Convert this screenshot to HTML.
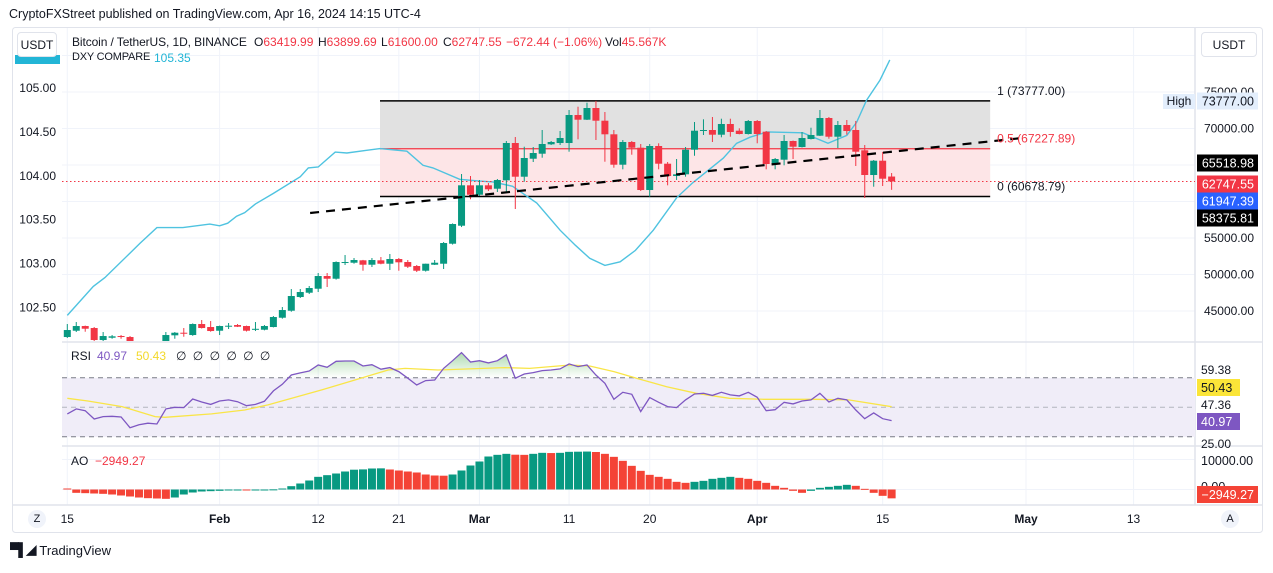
<!DOCTYPE html>
<html><head><meta charset="utf-8">
<style>
html,body{margin:0;padding:0;background:#fff;}
body{width:1273px;height:568px;overflow:hidden;font-family:"Liberation Sans",sans-serif;}
svg text{font-family:"Liberation Sans",sans-serif;}
.lg{position:absolute;font-size:12px;color:#131722;white-space:nowrap;}
.r{color:#f23645;}
</style></head>
<body>
<svg id="chart" width="1273" height="568" viewBox="0 0 1273 568" xmlns="http://www.w3.org/2000/svg">
<defs>
<clipPath id="mainClip"><rect x="62" y="28" width="1133" height="313"/></clipPath>
<clipPath id="rsiClip"><rect x="62" y="343" width="1133" height="102"/></clipPath>
<clipPath id="aoClip"><rect x="62" y="447" width="1133" height="58"/></clipPath>
<clipPath id="axisClip"><rect x="1196" y="60" width="66" height="445"/></clipPath>
<linearGradient id="rsiGreen" x1="0" y1="0" x2="0" y2="1"><stop offset="0" stop-color="#4caf50" stop-opacity="0.45"/><stop offset="1" stop-color="#4caf50" stop-opacity="0"/></linearGradient>
</defs>
<text x="9" y="18" font-size="12.5" fill="#131722">CryptoFXStreet published on TradingView.com, Apr 16, 2024 14:15 UTC-4</text>
<rect x="12.5" y="27.5" width="1250" height="505" rx="3" fill="#fff" stroke="#e0e3eb"/>
<g id="grid"></g>
<g id="panes"></g>
</svg>
<script>
// ---- data ----
const dateLabels = ["15","Feb","12","21","Mar","11","20","Apr","15","May","13"];
const dateLabelIdx = [0,17,28,37,46,56,65,77,91,107,119];
const priceTicks = [45000,50000,55000,60000,65000,70000,75000,80000];
const dxyTicks = [102.5,103,103.5,104,104.5,105];
const open = [41435,42298,42942,42668,41024,41339,41572,41435,39600,39500,39900,40000,41668,42024,41709,43216,42805,42298,42942,43079,42942,42531,42435,42805,44079,45038,46915,47504,48052,49792,49422,51614,51614,51943,51340,51943,51477,52121,51710,51162,50518,51340,51477,54217,56683,62218,60930,62218,61752,62900,68013,63396,65860,66547,67835,68013,68013,71849,71205,72808,71068,69205,65040,68150,67369,61574,67602,65177,63492,63725,67095,69698,69794,69150,70616,69698,69246,71027,69561,65136,65725,68287,67465,68561,69013,71438,68876,70479,69794,67013,63629,65588,63419.99];
const high = [43216,43490,43000,42805,42120,41709,41709,41572,40100,40500,40300,42120,42120,42668,43300,43764,43627,43000,43353,43216,43000,43490,43079,44312,45545,48011,48011,48422,50203,50203,51800,52669,52258,52000,52258,52395,52806,52258,51984,51299,51480,51984,54450,57000,63766,63492,62944,62533,63081,68287,68835,67506,67465,69794,68287,69657,72534,72986,73534,73777,72260,69794,68424,68287,67876,67876,67972,65410,65821,67465,70890,71260,71575,71342,71342,70027,71164,71164,69657,65958,69109,68350,69520,70109,72534,71575,71027,71164,71027,67739,65684,66780,63899.69];
const low = [41300,42120,42161,40887,40887,41200,41200,39400,38600,39400,39700,39800,41200,41476,41600,42600,42161,41709,42531,42805,42200,42257,42350,42750,43950,44900,46780,47326,47600,48285,49300,51299,51480,50518,51025,51400,50614,50518,50888,50340,50400,51299,50751,54100,56500,60300,60752,61437,61300,61163,58971,62711,65410,65999,67739,67739,66821,68520,71164,68424,65451,64629,64410,66410,61437,60656,64410,62218,62944,63400,66273,69109,68150,68794,68876,69200,69180,67972,64410,64410,64958,65821,67400,68500,68970,68602,67328,69150,64862,60478,62026,62122,61600];
const close = [42394,42942,42572,41024,41572,41531,41435,39600,39500,39900,40000,41709,42024,41942,43216,42668,42257,42942,42983,42846,42300,42560,42942,44175,45134,47052,47600,48148,49792,49422,51710,51710,51984,51340,51984,51477,52121,51669,51066,50518,51477,51614,54313,56916,62218,60930,62218,61670,62944,68013,63396,65958,66643,67876,68150,68698,71849,71205,72808,71068,69205,65040,68150,67369,61574,67602,65177,63492,63725,67095,69698,69794,69150,70616,69520,69246,71027,69246,65136,65821,68287,67506,68698,69109,71438,68876,70479,69657,66821,63629,65588,63122,62747.55];
const dxyIdx = [0,2.9,4.2,7.0,8.1,10,12.9,15.9,17,17.9,18.9,19.8,21,23,26,26.9,28,29.9,31.2,33.4,34.9,37.9,39.7,40.8,43.8,46,47.5,49.7,52.4,55,56.7,58.3,60,61.7,63.4,65.4,68,69.8,73.2,74.7,76.2,78.1,82.1,84.9,87,88.1,89.2,90.7,91.8];
const dxyVal = [102.41,102.74,102.84,103.12,103.23,103.41,103.41,103.45,103.43,103.46,103.54,103.58,103.68,103.80,103.99,104.09,104.10,104.27,104.26,104.29,104.31,104.28,104.12,104.09,103.96,103.94,103.93,103.88,103.69,103.38,103.21,103.06,102.98,103.02,103.15,103.38,103.75,103.92,104.20,104.37,104.44,104.50,104.49,104.37,104.46,104.61,104.86,105.09,105.32];
const rsi = [45.5,48.9,47.7,42.1,43.7,43.9,43.4,36.2,38.2,39.2,38.7,48.9,50.0,49.8,55.6,53.6,52.0,54.3,55.0,53.8,51.1,52.0,54.1,61.1,65.6,71.9,73.3,74.6,78.7,77.1,81.2,81.4,81.4,78.0,78.9,75.8,76.9,74.2,69.7,65.1,68.1,68.5,76.4,81.6,87.1,80.7,81.6,80.1,81.6,85.5,69.7,72.6,73.5,74.9,75.3,76.0,79.4,77.6,78.7,71.9,66.3,55.4,60.2,58.8,47.1,56.6,53.4,50.5,49.8,55.0,59.0,59.5,58.1,60.2,58.4,57.7,60.2,56.8,47.7,48.4,53.4,52.3,54.3,55.0,59.5,53.6,56.1,55.0,48.2,42.3,46.2,42.3,40.97];
const rsiMaIdx = [0,2.3,6.1,9.8,10.9,16.1,19.8,22.4,28.4,32.1,35.8,37.7,41.4,48.8,51.6,56.1,58.3,61,63.5,66.9,70.2,73.9,77.7,83.3,87.2,92];
const rsiMaVal = [56.1,54.3,50.5,43.7,43.2,45.5,48.2,51.6,61.8,68.5,75.3,76.4,75.3,76.9,76.4,78.7,78.0,74.2,69.7,64.0,59.5,56.1,55.4,55.4,55.0,50.43];
const ao = [333,-1111,-1222,-1333,-1444,-1667,-2000,-2333,-2667,-2889,-3000,-3111,-2667,-1667,-1000,-667,-556,-444,-222,-200,-250,-111,-90,50,333,1111,2000,3000,4222,4778,5333,6000,6600,6700,7000,7050,6667,6333,6000,5667,5000,4667,4600,5000,6333,8000,9333,11000,11556,11889,11600,11550,11889,12222,12150,12222,12556,12600,12650,12500,11889,10889,9556,7889,6222,4889,4222,3556,2556,2222,2556,2889,3556,3889,4222,3889,3556,2889,2222,1222,556,-444,-1111,-444,556,889,1222,1556,1222,222,-1111,-2111,-2949.27];
const fibHigh = 73777, fibLow = 60678.79, fibStartIdx = 34.9, fibEndIdx = 103;
const trendIdx = [27.1,106.2];
const trendPrice = [58425,68650];
const lastPrice = 62747.55;

// ---- scales ----
const X = i => 67.3 + 8.96 * i;
const YP = p => 92 + (75000 - p) * 0.0073;
const YD = v => 88 + (105 - v) * 87.8;
const YR = r => 407.3 - (r - 50) * 1.475;
const YA = a => 489.5 - a * 0.003;

const NS = "http://www.w3.org/2000/svg";
const svg = document.getElementById('chart');
function mk(tag, attrs, parent, txt){
  const e = document.createElementNS(NS, tag);
  for (const k in attrs) e.setAttribute(k, attrs[k]);
  if (txt !== undefined) e.textContent = txt;
  (parent || svg).appendChild(e);
  return e;
}
const grid = document.getElementById('grid');
const panes = document.getElementById('panes');

dateLabelIdx.forEach((d, k) => {
  const l = mk('line', {x1:X(d), x2:X(d), y1:28, y2:505, stroke:'#f0f3fa', 'stroke-width':1}, grid);
  
  
});
priceTicks.forEach(p => {
  const l = mk('line', {x1:62, x2:1195, y1:YP(p), y2:YP(p), stroke:'#f0f3fa'}, grid);
  
  
});
[YA(10000), YA(0)].forEach(y => {
  const l = mk('line', {x1:62, x2:1195, y1:y, y2:y, stroke:'#f0f3fa'}, grid);
  
  
});

[[62,342,1262,342],[62,446,1262,446],[12,505,1262,505],[1195,28,1195,505]].forEach(s => {
  const l = mk('line', {x1:s[0], y1:s[1], x2:s[2], y2:s[3], stroke:'#e0e3eb', 'stroke-width':1.5}, panes);
  
  
});

// ---- main pane ----
const main = mk('g', {'clip-path':'url(#mainClip)'}, panes);


const fx1 = X(fibStartIdx), fx2 = X(fibEndIdx), fmid = (fibHigh + fibLow) / 2;
let r = mk('rect', {x:fx1, y:YP(fibHigh), width:fx2-fx1, height:YP(fmid)-YP(fibHigh), fill:'#e1e1e1'}, main);
 
r = mk('rect', {x:fx1, y:YP(fmid), width:fx2-fx1, height:YP(fibLow)-YP(fmid), fill:'#fde5e7'}, main);
 
r = mk('line', {x1:fx1, x2:fx2, y1:YP(fibHigh), y2:YP(fibHigh), stroke:'#000', 'stroke-width':1.5}, main);
 
r = mk('line', {x1:fx1, x2:fx2, y1:YP(fmid), y2:YP(fmid), stroke:'#f23645', 'stroke-width':1.3}, main);
 
r = mk('line', {x1:fx1, x2:fx2, y1:YP(fibLow), y2:YP(fibLow), stroke:'#000', 'stroke-width':1.5}, main);
 

let pts = dxyIdx.map((d, k) => X(d).toFixed(1) + ',' + YD(dxyVal[k]).toFixed(1)).join(' ');
r = mk('polyline', {points:pts, fill:'none', stroke:'#4fc3e0', 'stroke-width':1.4}, main);
 

r = mk('line', {x1:62, x2:1195, y1:YP(lastPrice), y2:YP(lastPrice), stroke:'#f23645', 'stroke-width':1, 'stroke-dasharray':'1.5,2.5'}, main);
 

for (let i = 0; i < open.length; i++) {
  const up = close[i] >= open[i];
  const col = up ? '#089981' : '#f23645';
  const g = mk('g', {}, main);
  
  
  const cx = X(i);
  mk('line', {x1:cx, x2:cx, y1:YP(high[i]), y2:YP(low[i]), stroke:col, 'stroke-width':1}, g);
  const top = YP(Math.max(open[i], close[i])), bot = YP(Math.min(open[i], close[i]));
  mk('rect', {x:cx-3.5, y:top, width:7, height:Math.max(1, bot-top), fill:col}, g);
}

r = mk('line', {x1:X(trendIdx[0]), y1:YP(trendPrice[0]), x2:X(trendIdx[1]), y2:YP(trendPrice[1]), stroke:'#000', 'stroke-width':2.2, 'stroke-dasharray':'9,7'}, main);
 

[[fibHigh,'1 (73777.00)','#131722'],[fmid,'0.5 (67227.89)','#f23645'],[fibLow,'0 (60678.79)','#131722']].forEach(f => {
  const t = mk('text', {x:fx2+7, y:YP(f[0])-6, 'font-size':12, fill:f[2]}, main, f[1]);
   
});

dxyTicks.forEach(v => {
  const t = mk('text', {x:56, y:YD(v)+4, 'font-size':12, fill:'#131722', 'text-anchor':'end'}, panes, v.toFixed(2));
   
});
r = mk('rect', {x:15, y:55, width:45, height:9, fill:'#22b5d6'}, panes);
 

const ax = mk('g', {'clip-path':'url(#axisClip)'}, panes);


priceTicks.forEach(p => {
  const t = mk('text', {x:1254, y:YP(p)+4, 'font-size':12, fill:'#131722', 'text-anchor':'end'}, ax, p.toFixed(2));
   
});
r = mk('rect', {x:1163, y:94, width:32, height:15, fill:'#e3eefc'}, panes);
 
r = mk('text', {x:1179, y:105, 'font-size':12, fill:'#131722', 'text-anchor':'middle'}, panes, 'High');
 
[[73777,'73777.00','#e3eefc','#131722'],[65518.98,'65518.98','#000','#fff'],[lastPrice,'62747.55','#f23645','#fff'],[61947.39,'61947.39','#2962ff','#fff'],[58375.81,'58375.81','#000','#fff']].forEach((b, k) => {
  const yc = [101,163,184,201,218][k];
  const bg = mk('rect', {x:1197, y:yc-8.5, width:61, height:17, fill:b[2]}, panes);
   
  const t = mk('text', {x:1254, y:yc+4.5, 'font-size':12.5, fill:b[3], 'text-anchor':'end'}, panes, b[1]);
   
});

// ---- RSI pane ----
const rp = mk('g', {'clip-path':'url(#rsiClip)'}, panes);


r = mk('rect', {x:62, y:YR(70), width:1133, height:YR(30)-YR(70), fill:'#f0edf8'}, rp);
 
const y70 = YR(70);
let area = 'M' + X(0) + ',' + y70 + ' ' + rsi.map((v, i) => 'L' + X(i).toFixed(1) + ',' + Math.min(YR(v), y70).toFixed(1)).join(' ') + ' L' + X(rsi.length-1) + ',' + y70 + 'Z';
r = mk('path', {d:area, fill:'url(#rsiGreen)'}, rp);
 
[[70,'#787b86','5,4'],[50,'#b2b5be','5,4'],[30,'#787b86','5,4']].forEach(d => {
  const l = mk('line', {x1:62, x2:1195, y1:YR(d[0]), y2:YR(d[0]), stroke:d[1], 'stroke-dasharray':d[2]}, rp);
   
});
pts = rsiMaIdx.map((d, k) => X(d).toFixed(1) + ',' + YR(rsiMaVal[k]).toFixed(1)).join(' ');
r = mk('polyline', {points:pts, fill:'none', stroke:'#f9e547', 'stroke-width':1.3}, rp);
 
pts = rsi.map((v, i) => X(i).toFixed(1) + ',' + YR(v).toFixed(1)).join(' ');
r = mk('polyline', {points:pts, fill:'none', stroke:'#7e57c2', 'stroke-width':1.3}, rp);
 

[['59.38',370],['47.36',405],['25.00',444]].forEach(d => {
  const t = mk('text', {x:1201, y:d[1]+4, 'font-size':12, fill:'#131722'}, panes, d[0]);
   
});
r = mk('rect', {x:1197, y:379, width:43, height:17, fill:'#fbe538'}, panes);
 
r = mk('text', {x:1201, y:392, 'font-size':12.5, fill:'#131722'}, panes, '50.43');
 
r = mk('rect', {x:1197, y:413, width:43, height:17, fill:'#7e57c2'}, panes);
 
r = mk('text', {x:1201, y:426, 'font-size':12.5, fill:'#fff'}, panes, '40.97');
 

// ---- AO pane ----
const ap = mk('g', {'clip-path':'url(#aoClip)'}, panes);


for (let i = 0; i < ao.length; i++) {
  const up = i > 0 && ao[i] > ao[i-1];
  const y0 = YA(0), y1 = YA(ao[i]);
  const b = mk('rect', {x:X(i)-4, y:Math.min(y0,y1), width:8, height:Math.max(1, Math.abs(y1-y0)), fill: up ? '#089981' : '#f44336'}, ap);
  
  
}
r = mk('text', {x:1201, y:465, 'font-size':12.5, fill:'#131722'}, panes, '10000.00');
 
r = mk('text', {x:1201, y:491, 'font-size':12.5, fill:'#131722'}, panes, '0.00');
 
r = mk('rect', {x:1197, y:486, width:61, height:17, fill:'#f44336'}, panes);
 
r = mk('text', {x:1254, y:499, 'font-size':12.5, fill:'#fff', 'text-anchor':'end'}, panes, '\u22122949.27');
 

// ---- time axis ----
dateLabels.forEach((lab, k) => {
  const bold = isNaN(parseInt(lab));
  const t = mk('text', {x:X(dateLabelIdx[k]), y:523, 'font-size':12, fill:'#131722', 'text-anchor':'middle', 'font-weight': bold ? 'bold' : 'normal'}, panes, lab);
   
});
</script>

<div style="position:absolute;left:17px;top:32px;width:40px;height:25px;border:1px solid #e0e3eb;border-radius:4px;background:#fff;font-size:12px;color:#131722;display:flex;align-items:center;justify-content:center;box-sizing:border-box;">USDT</div>
<div style="position:absolute;left:1201px;top:32px;width:56px;height:25px;border:1px solid #e0e3eb;border-radius:4px;background:#fff;font-size:12px;color:#131722;display:flex;align-items:center;justify-content:center;box-sizing:border-box;">USDT</div>

<div>
<span class="lg" style="left:72px;top:35px;letter-spacing:-0.1px;">Bitcoin / TetherUS, 1D, BINANCE</span>
<span class="lg" style="left:254px;top:35px;">O<span class="r">63419.99</span></span>
<span class="lg" style="left:318px;top:35px;">H<span class="r">63899.69</span></span>
<span class="lg" style="left:381px;top:35px;">L<span class="r">61600.00</span></span>
<span class="lg" style="left:443px;top:35px;">C<span class="r">62747.55</span></span>
<span class="lg r" style="left:506px;top:35px;">−672.44 (−1.06%)</span>
<span class="lg" style="left:605px;top:35px;">Vol<span class="r">45.567K</span></span>
</div>
<span class="lg" style="left:72px;top:51px;font-size:11px;letter-spacing:-0.2px;">DXY COMPARE</span>
<span class="lg" style="left:154px;top:51px;color:#22b5d6;">105.35</span>

<span class="lg" style="left:71px;top:349px;">RSI</span>
<span class="lg" style="left:97px;top:349px;color:#7e57c2;">40.97</span>
<span class="lg" style="left:136px;top:349px;color:#f3d92a;">50.43</span>
<span class="lg" style="left:176px;top:349px;word-spacing:3px;">∅ ∅ ∅ ∅ ∅ ∅</span>

<span class="lg" style="left:71px;top:454px;">AO</span>
<span class="lg" style="left:95px;top:454px;color:#f23645;">−2949.27</span>

<div style="position:absolute;left:28px;top:510px;width:18px;height:18px;border-radius:50%;background:#f0f3fa;font-size:11px;color:#131722;display:flex;align-items:center;justify-content:center;">Z</div>
<div style="position:absolute;left:1221px;top:510px;width:18px;height:18px;border-radius:50%;background:#f0f3fa;font-size:11px;color:#131722;display:flex;align-items:center;justify-content:center;">A</div>
<div style="position:absolute;left:10px;top:542px;font-size:13px;color:#131722;white-space:nowrap;display:flex;align-items:center;"><span style="font-weight:bold;font-size:13px;letter-spacing:-1px;margin-right:4px;">▀▌◢</span>TradingView</div>
</body></html>
